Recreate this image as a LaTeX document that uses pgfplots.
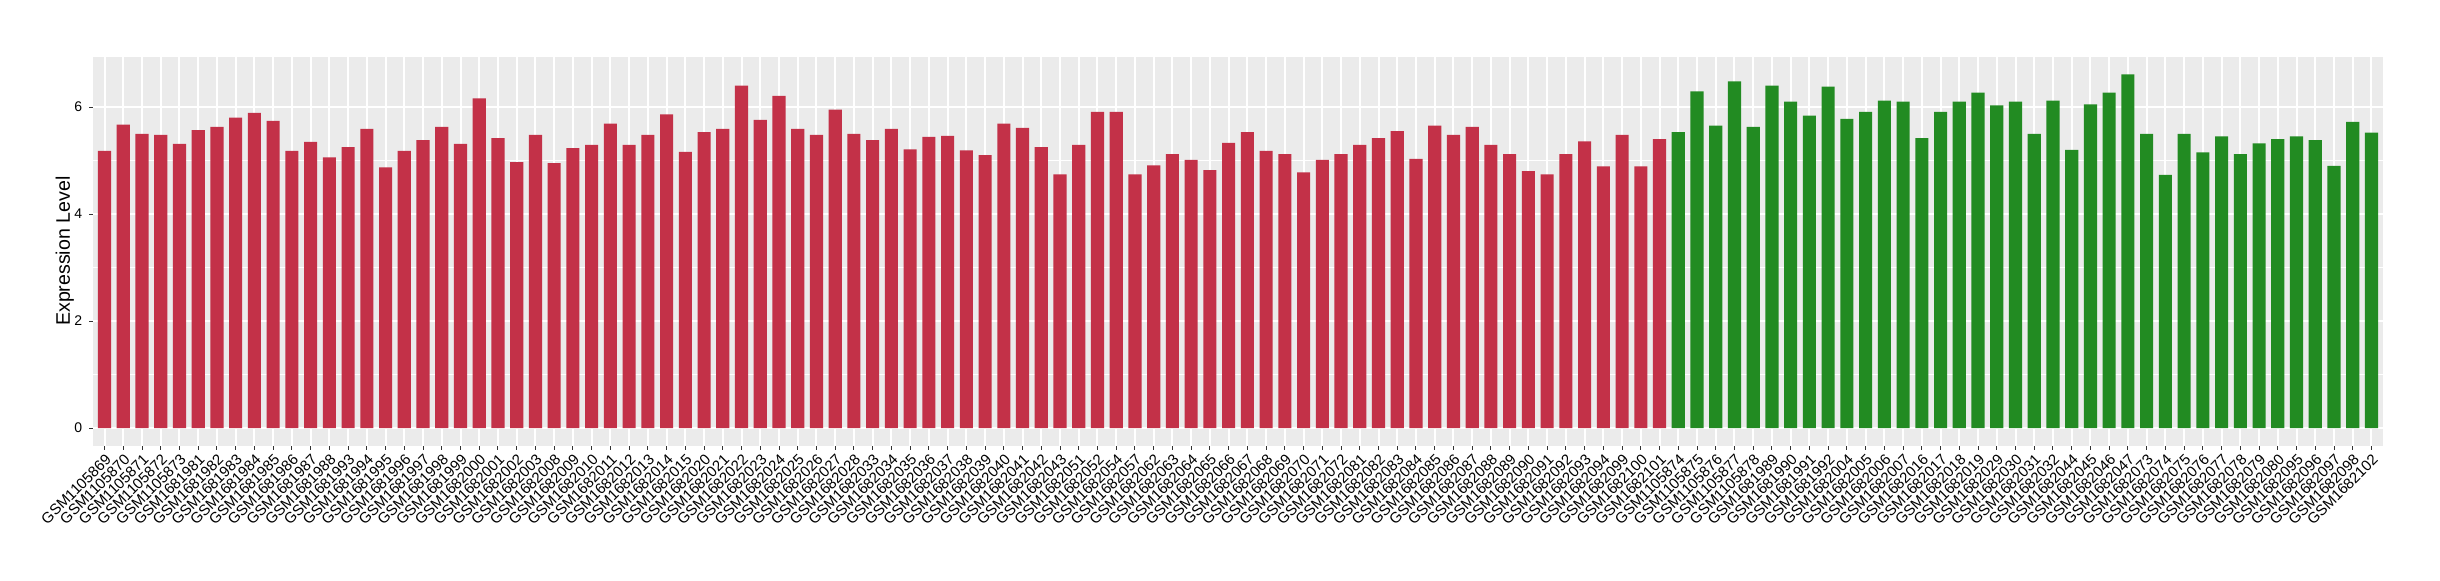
\documentclass[border=0pt]{standalone}
\usepackage{fontspec}
\setmainfont{Liberation Sans}
\usepackage{pgfplots}
\usepackage{pgfplotstable}
\pgfplotsset{compat=1.18}
\definecolor{ggbg}{HTML}{EBEBEB}
\definecolor{barred}{RGB}{195,49,72}
\definecolor{bargreen}{RGB}{34,139,34}
\pgfplotstableread{
x y
0 5.18
1 5.67
2 5.50
3 5.48
4 5.31
5 5.57
6 5.63
7 5.80
8 5.89
9 5.74
10 5.18
11 5.35
12 5.06
13 5.25
14 5.59
15 4.87
16 5.18
17 5.38
18 5.63
19 5.31
20 6.16
21 5.42
22 4.97
23 5.48
24 4.95
25 5.23
26 5.29
27 5.69
28 5.29
29 5.48
30 5.86
31 5.16
32 5.53
33 5.59
34 6.40
35 5.76
36 6.21
37 5.59
38 5.48
39 5.95
40 5.50
41 5.38
42 5.59
43 5.21
44 5.44
45 5.46
46 5.19
47 5.10
48 5.69
49 5.61
50 5.25
51 4.74
52 5.29
53 5.91
54 5.91
55 4.74
56 4.91
57 5.12
58 5.01
59 4.82
60 5.33
61 5.53
62 5.18
63 5.12
64 4.78
65 5.01
66 5.12
67 5.29
68 5.42
69 5.55
70 5.03
71 5.65
72 5.48
73 5.63
74 5.29
75 5.12
76 4.80
77 4.74
78 5.12
79 5.36
80 4.89
81 5.48
82 4.89
83 5.40
}\redtable
\pgfplotstableread{
x y
84 5.53
85 6.29
86 5.65
87 6.48
88 5.63
89 6.40
90 6.10
91 5.84
92 6.38
93 5.78
94 5.91
95 6.12
96 6.10
97 5.42
98 5.91
99 6.10
100 6.27
101 6.03
102 6.10
103 5.50
104 6.12
105 5.20
106 6.05
107 6.27
108 6.61
109 5.50
110 4.73
111 5.50
112 5.15
113 5.45
114 5.12
115 5.32
116 5.40
117 5.45
118 5.38
119 4.90
120 5.72
121 5.52
}\greentable
\begin{document}
\begin{tikzpicture}
\begin{axis}[
  at={(0,0)}, anchor=south west,
  scale only axis,
  width=1144.7pt, height=194.5pt,
  xmin=-0.6, xmax=121.6,
  ymin=-0.33, ymax=6.94,
  axis background/.style={fill=ggbg},
  axis line style={draw=none},
  tick pos=left,
  tick align=outside,
  major tick length=2pt,
  minor tick length=0pt,
  tick style={black!80, line width=0.5pt},
  xtick={0,...,121},
  ytick={0,2,4,6},
  minor ytick={1,3,5},
  grid=both,
  major grid style={white, line width=1pt},
  minor grid style={white, line width=0.5pt},
  /pgf/number format/assume math mode=true,
  yticklabel style={font=\fontsize{7}{8}\selectfont, text=black},
  xticklabel style={font=\fontsize{7.5}{9}\selectfont, text=black, rotate=45, anchor=north east, inner sep=1pt},
  ylabel={Expression Level},
  every axis y label/.style={at={(axis description cs:-0.0124,0.5)}, rotate=90, anchor=center, font=\fontsize{9.8}{11}\selectfont},
  xticklabels={GSM1105869,GSM1105870,GSM1105871,GSM1105872,GSM1105873,GSM1681981,GSM1681982,GSM1681983,GSM1681984,GSM1681985,GSM1681986,GSM1681987,GSM1681988,GSM1681993,GSM1681994,GSM1681995,GSM1681996,GSM1681997,GSM1681998,GSM1681999,GSM1682000,GSM1682001,GSM1682002,GSM1682003,GSM1682008,GSM1682009,GSM1682010,GSM1682011,GSM1682012,GSM1682013,GSM1682014,GSM1682015,GSM1682020,GSM1682021,GSM1682022,GSM1682023,GSM1682024,GSM1682025,GSM1682026,GSM1682027,GSM1682028,GSM1682033,GSM1682034,GSM1682035,GSM1682036,GSM1682037,GSM1682038,GSM1682039,GSM1682040,GSM1682041,GSM1682042,GSM1682043,GSM1682051,GSM1682052,GSM1682054,GSM1682057,GSM1682062,GSM1682063,GSM1682064,GSM1682065,GSM1682066,GSM1682067,GSM1682068,GSM1682069,GSM1682070,GSM1682071,GSM1682072,GSM1682081,GSM1682082,GSM1682083,GSM1682084,GSM1682085,GSM1682086,GSM1682087,GSM1682088,GSM1682089,GSM1682090,GSM1682091,GSM1682092,GSM1682093,GSM1682094,GSM1682099,GSM1682100,GSM1682101,GSM1105874,GSM1105875,GSM1105876,GSM1105877,GSM1105878,GSM1681989,GSM1681990,GSM1681991,GSM1681992,GSM1682004,GSM1682005,GSM1682006,GSM1682007,GSM1682016,GSM1682017,GSM1682018,GSM1682019,GSM1682029,GSM1682030,GSM1682031,GSM1682032,GSM1682044,GSM1682045,GSM1682046,GSM1682047,GSM1682073,GSM1682074,GSM1682075,GSM1682076,GSM1682077,GSM1682078,GSM1682079,GSM1682080,GSM1682095,GSM1682096,GSM1682097,GSM1682098,GSM1682102},
]
\addplot[ybar, bar width=0.7, bar shift=0pt, fill=barred, draw=none] table[x=x,y=y] {\redtable};
\addplot[ybar, bar width=0.7, bar shift=0pt, fill=bargreen, draw=none] table[x=x,y=y] {\greentable};
\end{axis}
\path (-46.65pt,-67.15pt) rectangle (1173.35pt,222.85pt);
\end{tikzpicture}
\end{document}
